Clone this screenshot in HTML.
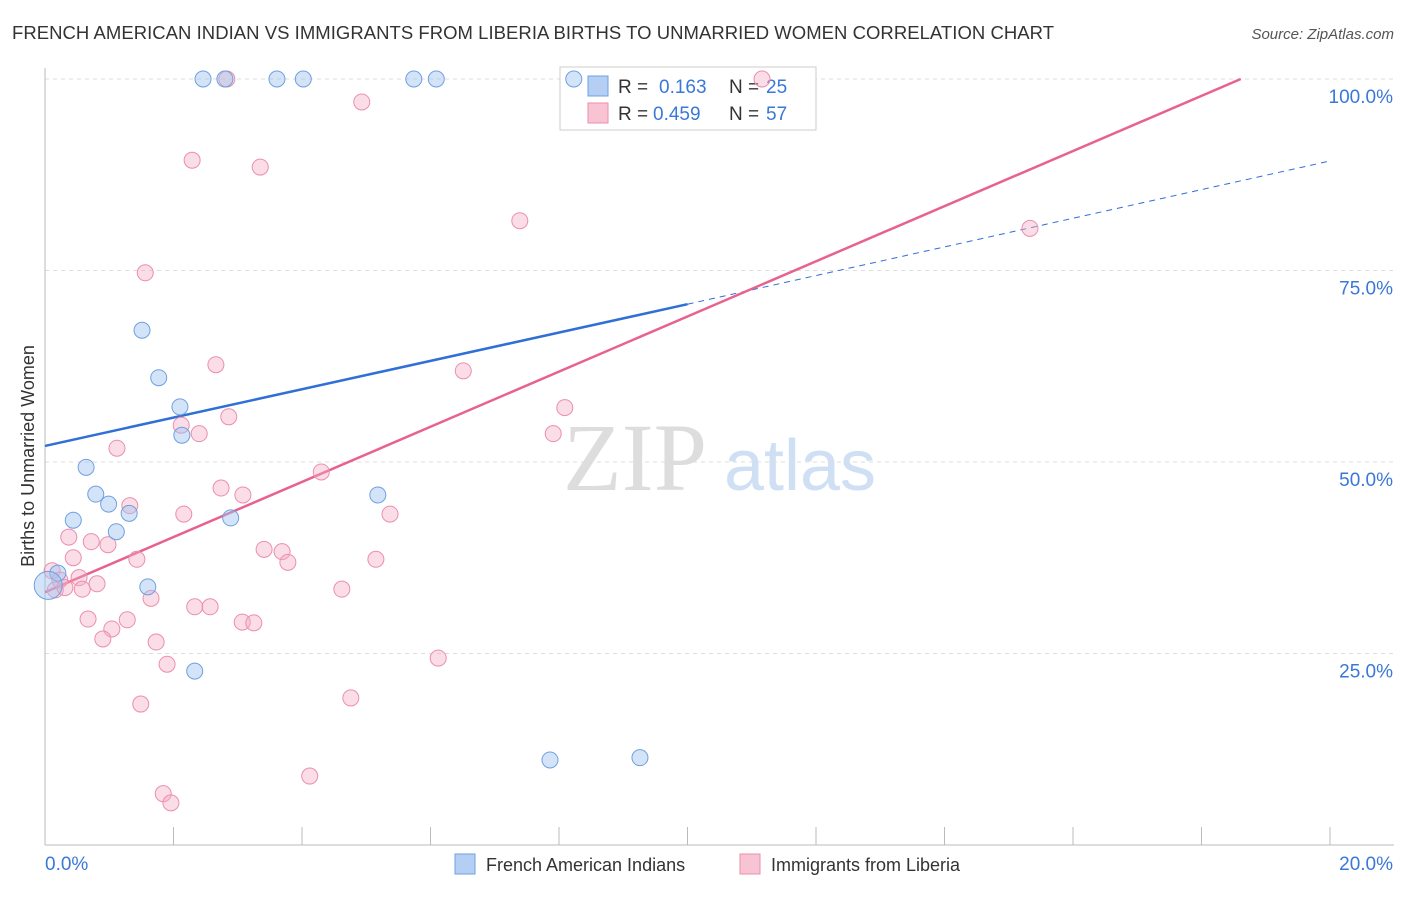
<!DOCTYPE html>
<html><head><meta charset="utf-8">
<style>
body{margin:0;background:#fff;font-family:"Liberation Sans",sans-serif;}
svg text{font-family:"Liberation Sans",sans-serif;}
</style></head>
<body>
<svg id="chart" width="1406" height="892" xmlns="http://www.w3.org/2000/svg">
<text x="12" y="39" font-size="18.5" fill="#333" textLength="1042">FRENCH AMERICAN INDIAN VS IMMIGRANTS FROM LIBERIA BIRTHS TO UNMARRIED WOMEN CORRELATION CHART</text>
<text x="1394" y="39" font-size="15" fill="#555" text-anchor="end" font-style="italic">Source: ZipAtlas.com</text>
<text x="0" y="0" transform="translate(34,456) rotate(-90)" font-size="18" fill="#333" text-anchor="middle">Births to Unmarried Women</text>
<g>
<text x="635" y="490" font-size="96" fill="#ddd" text-anchor="middle" style="font-family:'Liberation Serif',serif">ZIP</text>
<text x="800" y="490" font-size="72" fill="#cfe0f4" text-anchor="middle">atlas</text>
</g>
<g id="grid"></g>
<g id="axes"></g>
<g>
<rect x="560" y="67" width="256" height="63" fill="#fff" stroke="#ccc"/>
<rect x="588" y="76" width="20" height="20" fill="#b4cff3" stroke="#6fa0e0"/>
<text x="618" y="93" font-size="19" fill="#333">R =</text>
<text x="659" y="93" font-size="19" fill="#3a78d8">0.163</text>
<text x="729" y="93" font-size="19" fill="#333">N =</text>
<text x="766" y="93" font-size="19" fill="#3a78d8">25</text>
<rect x="588" y="103" width="20" height="20" fill="#f8c4d4" stroke="#eb8fac"/>
<text x="618" y="120" font-size="19" fill="#333">R =</text>
<text x="653" y="120" font-size="19" fill="#3a78d8">0.459</text>
<text x="729" y="120" font-size="19" fill="#333">N =</text>
<text x="766" y="120" font-size="19" fill="#3a78d8">57</text>
</g>
<g id="lines"></g>
<g id="points"></g>
<g>
<rect x="455" y="854" width="20" height="20" fill="#b4cff3" stroke="#6fa0e0"/>
<text x="486" y="871" font-size="18" fill="#333">French American Indians</text>
<rect x="740" y="854" width="20" height="20" fill="#f8c4d4" stroke="#eb8fac"/>
<text x="771" y="871" font-size="18" fill="#333">Immigrants from Liberia</text>
</g>
</svg>
<script>
const blueX=[2.46,2.80,3.61,4.02,5.74,6.09,8.23,1.51,1.77,2.10,2.13,0.64,0.79,0.99,1.31,0.44,1.11,2.89,5.18,1.60,2.33,7.86,9.26,0.20,0.05];
const blueY=[100,100,100,100,100,100,100,67.2,61.0,57.2,53.5,49.3,45.8,44.5,43.3,42.4,40.9,42.7,45.7,33.7,22.7,11.1,11.4,35.5,33.9];
const pinkX=[2.83,11.16,4.93,2.29,3.35,7.39,15.33,1.56,2.66,6.51,2.86,8.09,7.91,2.12,2.40,1.12,4.30,2.74,3.08,1.32,2.16,5.37,0.37,0.72,0.98,0.44,1.43,3.41,3.69,3.78,5.15,0.53,0.81,0.58,1.65,4.62,2.33,2.57,0.67,1.28,1.04,0.90,3.07,3.25,1.73,1.90,6.12,1.49,4.76,4.12,1.84,1.96,0.11,0.23,0.16,0.31];
const pinkY=[100,100,97.0,89.4,88.5,81.5,80.5,74.7,62.7,61.9,55.9,57.1,53.7,54.8,53.7,51.8,48.7,46.6,45.7,44.3,43.2,43.2,40.2,39.6,39.2,37.5,37.3,38.6,38.3,36.9,37.3,34.9,34.1,33.4,32.2,33.4,31.1,31.1,29.5,29.4,28.2,26.9,29.1,29.0,26.5,23.6,24.4,18.4,19.2,9.0,6.7,5.5,35.8,34.6,33.3,33.6];
const yTicks=[25,50,75,100];
const yTickLabels=["25.0%","50.0%","75.0%","100.0%"];
const xTicks=[0,2,4,6,8,10,12,14,16,18,20];
const blueTrend=[52.1,70.6,89.3];
const pinkTrend=[33.0,3.60];
const ns="http://www.w3.org/2000/svg";
const X=v=>45+v*1285/20, Y=v=>845-v*766/100;
function mk(tag,attrs,parent){const e=document.createElementNS(ns,tag);for(const k in attrs)e.setAttribute(k,attrs[k]);document.getElementById(parent).appendChild(e);return e;}
yTicks.forEach((t,i)=>{
 const l=mk('line',{x1:45,x2:1394,y1:Y(t),y2:Y(t),stroke:'#ddd','stroke-dasharray':'4,4'},'grid');
 
 
 const tx=mk('text',{x:1393,y:Y(t)+24,'font-size':19,fill:'#3a78d8','text-anchor':'end'},'axes');
 tx.textContent=yTickLabels[i];
 
 
});
const ax=mk('line',{x1:45,x2:1394,y1:845,y2:845,stroke:'#bbb'},'axes');


const ay=mk('line',{x1:45,x2:45,y1:68,y2:845,stroke:'#bbb'},'axes');


xTicks.forEach(t=>{
 const l=mk('line',{x1:X(t),x2:X(t),y1:827,y2:845,stroke:'#bbb'},'axes');
 
 
});
const xl0=mk('text',{x:45,y:870,'font-size':19,fill:'#3a78d8'},'axes');xl0.textContent='0.0%';


const xl1=mk('text',{x:1393,y:870,'font-size':19,fill:'#3a78d8','text-anchor':'end'},'axes');xl1.textContent='20.0%';


const bl=mk('line',{x1:X(0),y1:Y(blueTrend[0]),x2:X(10),y2:Y(blueTrend[1]),stroke:'#2f6fd6','stroke-width':2.5},'lines');


const bd=mk('line',{x1:X(10),y1:Y(blueTrend[1]),x2:X(20),y2:Y(blueTrend[2]),stroke:'#2f6fd6','stroke-width':1,'stroke-dasharray':'6,5'},'lines');


const xe=(100-pinkTrend[0])/pinkTrend[1];
const pl=mk('line',{x1:X(0),y1:Y(pinkTrend[0]),x2:X(xe),y2:Y(100),stroke:'#e8628e','stroke-width':2.5},'lines');


pinkX.forEach((v,i)=>{
 const c=mk('circle',{cx:X(v),cy:Y(pinkY[i]),r:8,fill:'rgba(246,170,196,0.4)',stroke:'#eb8fac','stroke-width':1},'points');
 
 
});
blueX.forEach((v,i)=>{
 const c=mk('circle',{cx:X(v),cy:Y(blueY[i]),r:i==blueX.length-1?14:8,fill:'rgba(160,195,240,0.45)',stroke:'#6fa0e0','stroke-width':1},'points');
 
 
});
</script>
</body></html>
